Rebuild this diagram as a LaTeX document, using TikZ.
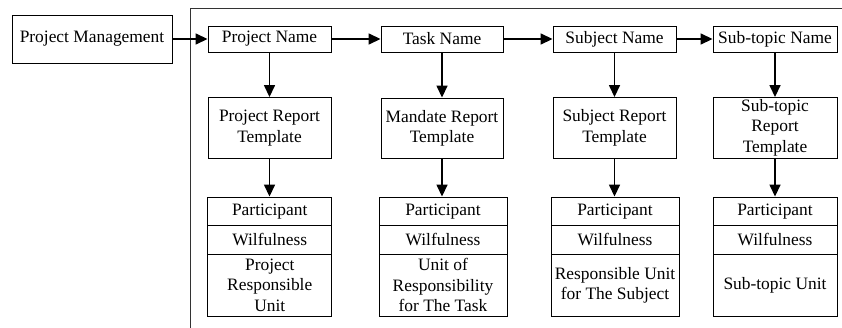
\documentclass[tikz,border=0pt]{standalone}
\usepackage{fontspec}
\setmainfont{Liberation Serif}
\usetikzlibrary{arrows.meta}
\begin{document}
\begin{tikzpicture}[x=1pt,y=-1pt,
  every node/.style={font=\fontsize{17.4}{20.7}\selectfont},
  box/.style={draw,line width=0.9pt,inner sep=0pt,align=center},
  namebox/.style={box,minimum height=26pt},
  tplbox/.style={box,minimum height=60.5pt},
  rowbox/.style={box,minimum height=28.5pt},
  unitbox/.style={box,minimum height=61.5pt},
  flow/.style={line width=1.5pt,-{Triangle[length=12pt,width=11pt]}}]
\useasboundingbox (0,0) rectangle (842,327);

% enclosing frame (runs off the right and bottom edges)
\draw[line width=0.9pt,black!80] (190.5,330) |- (845,8);

% top row
\node[box,minimum width=160pt,minimum height=48pt] (pm) at (92,39) {Project Management};
\node[namebox,minimum width=123pt] (pn) at (269.5,39) {Project Name};
\node[namebox,minimum width=122pt] (tn) at (442,39) {Task Name};
\node[namebox,minimum width=123pt] (sn) at (614.5,39) {Subject Name};
\node[namebox,minimum width=124pt] (stn) at (775,39) {Sub-topic Name};

% report templates
\node[tplbox,minimum width=123pt] (pt) at (269.5,127.75) {Project Report\\Template};
\node[tplbox,minimum width=122pt] (tt) at (442,128.25) {Mandate Report\\Template};
\node[tplbox,minimum width=123pt] (st) at (614.5,127.75) {Subject Report\\Template};
\node[tplbox,minimum width=124pt] (stt) at (775,127.75) {Sub-topic\\Report\\Template};

% project stack
\node[rowbox,minimum width=124pt] (pp) at (269.75,211.25) {Participant};
\node[rowbox,minimum width=124pt] (pw) at (269.75,239.75) {Wilfulness};
\node[unitbox,minimum width=124pt] (pu) at (269.75,285.25) {Project\\Responsible\\Unit};

% task stack
\node[rowbox,minimum width=128pt] (tp) at (443,211.25) {Participant};
\node[rowbox,minimum width=128pt] (tw) at (443,239.75) {Wilfulness};
\node[unitbox,minimum width=128pt] (tu) at (443,285.25) {Unit of\\Responsibility\\for The Task};

% subject stack
\node[rowbox,minimum width=128pt] (sp) at (615,211.25) {Participant};
\node[rowbox,minimum width=128pt] (sw) at (615,239.75) {Wilfulness};
\node[unitbox,minimum width=128pt] (su) at (615,285.25) {Responsible Unit\\for The Subject};

% sub-topic stack
\node[rowbox,minimum width=124pt] (stp) at (775,211.25) {Participant};
\node[rowbox,minimum width=124pt] (stw) at (775,239.75) {Wilfulness};
\node[unitbox,minimum width=124pt] (stu) at (775,285.25) {Sub-topic Unit};

% horizontal flow
\draw[flow] (pm) -- (pn);
\draw[flow] (pn) -- (tn);
\draw[flow] (tn) -- (sn);
\draw[flow] (sn) -- (stn);

% names to templates
\draw[flow] (pn) -- (pt);
\draw[flow] (tn) -- (tt);
\draw[flow] (sn) -- (st);
\draw[flow] (stn) -- (stt);

% templates to stacks
\draw[flow] (pt.south) -- (pt.south |- pp.north);
\draw[flow] (tt.south) -- (tt.south |- tp.north);
\draw[flow] (st.south) -- (st.south |- sp.north);
\draw[flow] (stt.south) -- (stt.south |- stp.north);
\end{tikzpicture}
\end{document}
